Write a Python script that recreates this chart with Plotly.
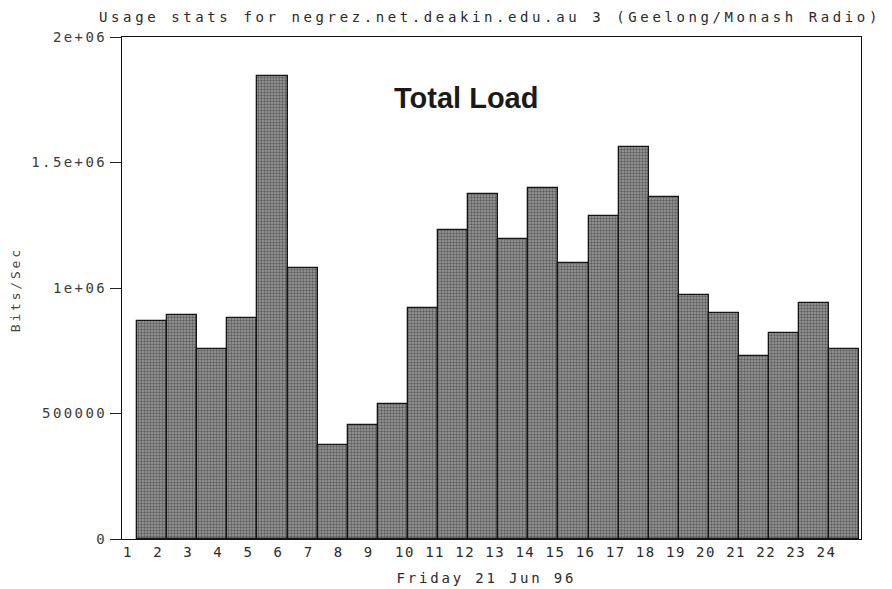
import plotly.graph_objects as go

# ---- data ----
hours = list(range(1, 25))
hour_labels = [str(h) for h in hours]
load_bits_per_sec = [
    870000, 892000, 757000, 882000, 1846000, 1081000,
    375000, 454000, 537000, 919000, 1231000, 1375000,
    1195000, 1397000, 1100000, 1288000, 1561000, 1364000,
    972000, 899000, 729000, 820000, 941000, 757000,
]
y_tick_values = [0, 500000, 1000000, 1500000, 2000000]
y_tick_labels = ["0", "500000", "1e+06", "1.5e+06", "2e+06"]

title_text = "Usage stats for negrez.net.deakin.edu.au 3 (Geelong/Monash Radio)"
x_title = "Friday 21 Jun 96"
y_title = "Bits/Sec"
inner_title = "Total Load"

MONO = "DejaVu Sans Mono"

fig = go.Figure()
fig.add_trace(go.Bar(
    x=hours,
    y=load_bits_per_sec,
    width=1.0,
    marker=dict(
        color="#888888",
        line=dict(color="#151515", width=1.3),
        pattern=dict(shape=".", fgcolor="#222222", bgcolor="#9c9c9c",
                     size=3, solidity=0.5),
    ),
    showlegend=False,
))

# tick labels sit just to the right of each tick (left aligned look)
tick_positions = [h - 1 + 0.2 * len(lbl) for h, lbl in zip(hours, hour_labels)]

fig.update_layout(
    width=892, height=589,
    margin=dict(l=122, r=31, t=37, b=50),
    paper_bgcolor="white",
    plot_bgcolor="white",
    bargap=0,
    title=dict(text=title_text, x=(490 / 892), xanchor="center",
               y=1 - 17 / 589, yanchor="middle",
               font=dict(family=MONO, size=14, color="#2a2a2a")),
    xaxis=dict(
        range=[0, 24.55],
        tickmode="array", tickvals=tick_positions, ticktext=hour_labels,
        ticks="", showgrid=False, zeroline=False,
        showline=True, linecolor="#111", linewidth=1.2, mirror=True,
        tickfont=dict(family=MONO, size=14, color="#2a2a2a"),
    ),
    yaxis=dict(
        range=[0, 2000000],
        tickmode="array", tickvals=y_tick_values, ticktext=y_tick_labels,
        ticks="outside", ticklen=11, tickcolor="#222", tickwidth=1,
        showgrid=False, zeroline=False,
        showline=True, linecolor="#111", linewidth=1.2, mirror=True,
        tickfont=dict(family=MONO, size=14, color="#3a3a3a"),
    ),
    annotations=[
        dict(text=inner_title, xref="paper", yref="paper",
             x=(466 - 122) / 739, y=(539 - 98) / 502,
             xanchor="center", yanchor="middle", showarrow=False,
             font=dict(family="Liberation Sans", size=29, color="#1a1a1a",
                       weight="bold")),
        dict(text=x_title, xref="paper", yref="paper",
             x=(486 - 122) / 739, y=-(578 - 539) / 502,
             xanchor="center", yanchor="middle", showarrow=False,
             font=dict(family=MONO, size=14, color="#2a2a2a")),
        dict(text=y_title, xref="paper", yref="paper",
             x=(15 - 122) / 739, y=(539 - 290) / 502,
             xanchor="center", yanchor="middle", showarrow=False,
             textangle=-90,
             font=dict(family=MONO, size=13, color="#444")),
    ],
)

# remove the page's default body margin and widen the dot-matrix style texts
post_js = """
document.body.style.margin = '0';
function spreadText() {
  var gd = document.getElementById('{plot_id}');
  if (!gd) return;
  var t = gd.querySelector('.gtitle');
  if (t) { t.style.letterSpacing = '3.6px'; }
  gd.querySelectorAll('.xtick text').forEach(function (e) { e.style.letterSpacing = '1.5px'; });
  gd.querySelectorAll('.ytick text').forEach(function (e) { e.style.letterSpacing = '2.4px'; });
  gd.querySelectorAll('.annotation-text').forEach(function (e) {
    if (e.textContent.indexOf('Total') < 0) { e.style.letterSpacing = '2.8px'; }
  });
}
spreadText();
setTimeout(spreadText, 30);
setTimeout(spreadText, 300);
"""

fig.write_html("out.html", post_script=post_js,
               config={"displayModeBar": False})
